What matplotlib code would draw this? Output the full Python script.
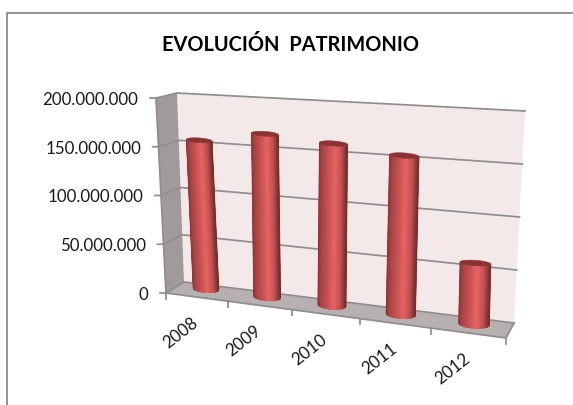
import numpy as np
import matplotlib
matplotlib.use("Agg")
import matplotlib.pyplot as plt
from matplotlib.collections import PolyCollection
from matplotlib.colors import LinearSegmentedColormap

# ---- data ----
YEARS = ["2008", "2009", "2010", "2011", "2012"]
PATRIMONIO = [151e6, 163e6, 159e6, 153e6, 57.5e6]
Y_TICKS = [0, 50e6, 100e6, 150e6, 200e6]
Y_LABELS = ["0", "50.000.000", "100.000.000", "150.000.000", "200.000.000"]
TITLE = "EVOLUCIÓN  PATRIMONIO"
VMAX = 200e6

plt.rcParams["font.family"] = ["Lato", "DejaVu Sans"]
W, H = 573, 405
fig = plt.figure(figsize=(W / 100, H / 100), dpi=100)
ax = fig.add_axes([0, 0, 1, 1])
ax.set_xlim(0, W)
ax.set_ylim(H, 0)
ax.axis("off")

GRID = "#8f8d8d"
TEXT = "#1a1a1a"
# outer frame
ax.plot([6.5, 6.5, W + 2], [H + 2, 13, 13], color="#8a8a8a", lw=1.3, zorder=1)


def lerp(a, b, t):
    return (a[0] + (b[0] - a[0]) * t, a[1] + (b[1] - a[1]) * t)


# cube corners in picture space
FL0, FL1 = (166, 293), (156, 98)      # front-left edge, value 0 / max
BL0, BL1 = (184, 282), (177, 93)      # back-left
BR0, BR1 = (514, 323), (525, 111)     # back-right
FR0 = (506, 338)                      # front-right on the floor

ax.add_patch(plt.Polygon([BL0, BL1, BR1, BR0], fc="#f4e9e9", ec="none", zorder=2))
ax.add_patch(plt.Polygon([FL0, FL1, BL1, BL0], fc="#a09a9a", ec="none", zorder=2))
ax.add_patch(plt.Polygon([FL0, BL0, BR0, FR0], fc="#b6b0b0", ec="none", zorder=2))

# gridlines, wall joins and value ticks
for v, lab in zip(Y_TICKS, Y_LABELS):
    t = v / VMAX
    f, b, r = lerp(FL0, FL1, t), lerp(BL0, BL1, t), lerp(BR0, BR1, t)
    ax.plot([f[0] - 6, f[0], b[0], r[0]], [f[1], f[1], b[1], r[1]],
            color=GRID, lw=1.25, zorder=3)
    ax.text(f[0] - 17.5, f[1] + 2, lab, ha="right", va="center", fontsize=12.2,
            color=TEXT, zorder=6)
ax.plot([BR0[0], FR0[0], FL0[0], FL1[0]], [BR0[1], FR0[1], FL0[1], FL1[1]],
        color=GRID, lw=1.25, zorder=3)

# category ticks along the front floor edge
n = len(YEARS)


def warp(t, r=1.128):
    return t / (r + (1 - r) * t)


for k in range(n + 1):
    e = warp(k / n)
    p = lerp(FL0, FR0, e)
    ax.plot([p[0], p[0]], [p[1], p[1] + 5.5], color=GRID, lw=1.25, zorder=3)
    if k < n:
        c = lerp(FL0, FR0, warp((k + 0.5) / n))
        ax.text(c[0] - 16, c[1] + 35.5, YEARS[k], rotation=38, rotation_mode="anchor",
                ha="center", va="center", fontsize=12.2, color=TEXT, zorder=6)

# title
ax.text(291, 45, TITLE, ha="center", va="center", fontsize=14.4,
        fontweight="bold", color="black", zorder=6)

# cylinders
shade = LinearSegmentedColormap.from_list("cyl", [
    (0.00, "#8a3535"), (0.12, "#a84444"), (0.35, "#c75252"),
    (0.58, "#e86464"), (0.80, "#c25050"), (0.93, "#8c3838"), (1.00, "#752a2a")])
B0, B4 = (206, 289), (474, 324)       # bar-plane base, first / last category
T0, T4 = (197, 92), (479, 112)        # bar-plane at VMAX
u = np.linspace(-1, 1, 61)
for i, v in enumerate(PATRIMONIO):
    e = warp(i / (n - 1))
    base = lerp(B0, B4, e)
    full = lerp(T0, T4, warp(i / (n - 1), 1.06))
    top = lerp(base, full, v / VMAX)
    w = 26 + 5 * e
    tilt = 0.07
    circ = np.sqrt(1 - u ** 2)
    xb = base[0] + u * w / 2
    xt = top[0] + u * w / 2
    yb = base[1] + tilt * u * w / 2 + circ * w * 0.14
    yt = top[1] + tilt * u * w / 2 + circ * w * 0.09
    polys, cols = [], []
    for j in range(len(u) - 1):
        polys.append([(xt[j], yt[j]), (xt[j + 1], yt[j + 1]),
                      (xb[j + 1], yb[j + 1]), (xb[j], yb[j])])
        cols.append(shade((u[j] + u[j + 1]) / 4 + 0.5))
    ax.add_collection(PolyCollection(polys, facecolors=cols, edgecolors=cols,
                                     linewidths=0.4, zorder=4))
    ytop_back = top[1] + tilt * u * w / 2 - circ * w * 0.09
    cap = list(zip(xt, yt)) + list(zip(xt[::-1], ytop_back[::-1]))
    ax.add_patch(plt.Polygon(cap, fc="#8c3232", ec="#8c3232", lw=0.3, zorder=5))

fig.savefig("out.png", dpi=100)
